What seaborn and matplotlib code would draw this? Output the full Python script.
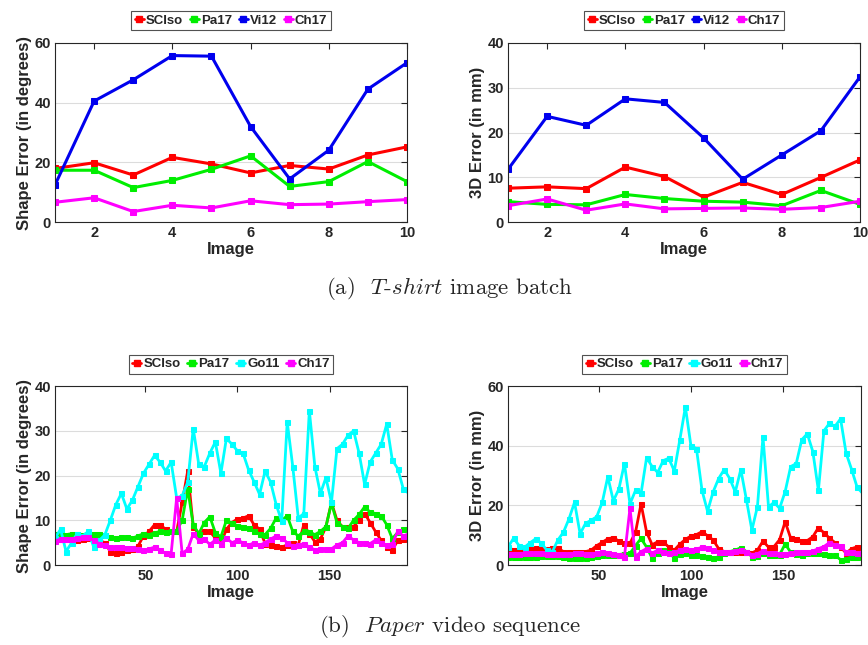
import numpy as np
import pandas as pd
import seaborn as sns
import matplotlib.pyplot as plt
from matplotlib.lines import Line2D

sns.set_theme(style='white')
plt.rcParams['font.family'] = ['Liberation Sans', 'DejaVu Sans']
plt.rcParams['mathtext.fontset'] = 'cm'

# ---------------- data ----------------
# (a) T-shirt image batch
images = np.arange(1, 11)
tshirt_shape_scisio = [18, 19.9, 15.8, 21.7, 19.5, 16.5, 19, 17.8, 22.5, 25.2]
tshirt_shape_pa17 = [17.4, 17.4, 11.6, 14, 17.7, 22.2, 12, 13.6, 20.3, 13.6]
tshirt_shape_vi12 = [12.5, 40.5, 47.6, 55.7, 55.5, 32, 14.5, 24.1, 44.5, 53.3]
tshirt_shape_ch17 = [6.7, 8.2, 3.6, 5.7, 4.8, 7.2, 5.9, 6.1, 6.9, 7.6]

tshirt_3d_scisio = [7.6, 7.9, 7.5, 12.3, 10.2, 5.6, 8.9, 6.2, 10, 13.9]
tshirt_3d_pa17 = [4.6, 4, 3.9, 6.2, 5.3, 4.7, 4.5, 3.7, 7.1, 4]
tshirt_3d_vi12 = [11.8, 23.6, 21.6, 27.5, 26.7, 18.8, 9.6, 15, 20.4, 32.4]
tshirt_3d_ch17 = [3.7, 5.2, 2.7, 4.1, 3, 3.1, 3.2, 2.9, 3.3, 4.7]

# (b) Paper video sequence (values read every 3rd frame)
frames = np.arange(1, 194, 3)
paper_shape_scisio = [5.5, 5.8, 5.8, 6, 5.7, 5.8, 6, 5.8, 5.5, 5,
                      3, 2.6, 3, 3.3, 3.5, 4.2, 6.5, 7.5, 9, 9,
                      8, 7.5, 7.5, 14, 21, 8.5, 7, 7.5, 7.5, 6,
                      4.8, 8, 9.5, 10.3, 10.5, 11, 9, 8, 4.8, 4.4,
                      4.2, 4, 4.5, 5, 4.5, 9, 7, 5.2, 5.8, 8.5,
                      14, 10, 8.5, 8.5, 8.6, 10, 11.5, 9.5, 7.4, 5.5,
                      4, 3.3, 5.5, 5.9, 5.9]
paper_shape_pa17 = [7, 7, 6.8, 7, 7, 6.8, 7, 7, 7, 6.6,
                    6.3, 6, 6.3, 6.3, 6, 6.5, 7, 6.8, 7.2, 7.5,
                    7.3, 7.5, 7.6, 10, 17, 9, 7, 9.5, 10.8, 7.2,
                    6.3, 10, 9.3, 8.8, 8.6, 8.2, 7.6, 7, 6.8, 8.2,
                    10.5, 10, 11, 7.5, 6.5, 7.5, 7.4, 6.8, 7.5, 8.6,
                    13.8, 9.5, 8.6, 8.2, 10, 11.3, 13, 11.8, 11.5, 11,
                    9, 5.9, 7.3, 8, 8.2]
paper_shape_go11 = [6, 8, 3, 5, 7, 6.5, 7.5, 4, 5.5, 6.7,
                    10, 13.5, 16, 12.5, 14.5, 17.5, 20.5, 22.5, 24.5, 23,
                    21, 23, 15, 15.5, 18.5, 30.5, 22.5, 22, 25, 27.5,
                    20.5, 28.3, 27, 25.5, 25, 21.3, 18.6, 15.8, 21, 18.5,
                    13.5, 9.8, 32, 22, 10.5, 11.5, 34.5, 22, 16, 19.5,
                    14, 26, 27, 29, 30, 25, 18, 23, 25, 27,
                    31.5, 23.5, 21.5, 17, 16]
paper_shape_ch17 = [5.4, 5.8, 5.8, 5.9, 6, 6.3, 6.2, 5.5, 4.8, 4.4,
                    4, 4, 4, 3.9, 3.8, 3.6, 3.3, 3.6, 4, 3.4,
                    2.6, 2.5, 15, 2.6, 3.5, 7, 5.5, 5.8, 4.6, 5.6,
                    4.8, 6, 5, 5.5, 5, 4.4, 5, 4.4, 5, 5.8,
                    6.5, 6, 5, 4.2, 4.4, 4.8, 4, 3.4, 3.5, 3.6,
                    3.6, 4.5, 5, 6.5, 5.6, 5, 5, 4.8, 5.6, 5,
                    4.4, 4.7, 7.5, 6.5, 7]

paper_3d_scisio = [5.5, 5.2, 5.2, 5.3, 5.3, 5.6, 5.3, 5.3, 5.8, 5.6,
                   4.5, 4.4, 4.4, 4.5, 4.5, 5, 6.5, 7.6, 8.8, 9.2,
                   8, 7.4, 7.3, 11, 20.5, 11, 6.8, 7.8, 7.8, 6,
                   5, 7, 8.6, 9.7, 10.2, 11.2, 9.8, 8.4, 5.5, 4.5,
                   4.5, 4.4, 4.5, 4.5, 4, 5, 8, 6, 6.2, 8.5,
                   14.5, 9, 8.8, 8, 8.2, 9.5, 12.5, 10.8, 9, 7.5,
                   6, 4, 5.5, 6.1, 6]
paper_3d_pa17 = [2.8, 2.6, 2.7, 2.8, 2.8, 2.7, 2.9, 3, 3, 2.9,
                 2.8, 2.5, 2.3, 2.2, 2.4, 2.8, 3, 3.2, 3.4, 3.3,
                 3.5, 3.8, 3.9, 6.5, 8.9, 6, 2.3, 4, 5, 4.5,
                 2.3, 3.8, 3.9, 3.5, 3.4, 3, 2.7, 2.2, 2.8, 3.9,
                 4.5, 5, 5.8, 4.5, 2.8, 2.9, 3.9, 3.5, 3.4, 3.5,
                 7, 4.3, 3.8, 3.5, 3.9, 4, 3.9, 3.6, 3.4, 3.2,
                 1.8, 2, 2.8, 2.8, 2.8]
paper_3d_go11 = [6, 9, 6.5, 6, 7.5, 8.8, 7.3, 5, 4.5, 8.4,
                 11, 15.5, 21, 10.5, 14, 15, 16.2, 21, 29.6, 21.5,
                 25.5, 34, 20.5, 25, 24, 36, 33, 31, 35, 35.8,
                 31.5, 42, 53, 40, 39, 25, 18, 24.5, 29, 32,
                 29, 24.5, 32, 22, 11.7, 19.6, 43, 19.5, 21, 19,
                 24.6, 33, 34, 42, 44, 38, 25, 45, 47.5, 46.5,
                 49, 37.5, 32, 26, 24]
paper_3d_ch17 = [3.6, 3.8, 3.7, 3.9, 4, 4, 4.1, 3.8, 3.6, 3.7,
                 3.8, 3.7, 3.9, 4, 3.8, 3.7, 4, 4.3, 4.1, 3.8,
                 3.5, 2.8, 19, 2.8, 4.5, 5.5, 4, 5, 4.5, 4,
                 4.3, 5, 5.4, 5, 5.3, 6, 5.6, 5, 4.5, 4.5,
                 4.4, 4.6, 5, 4.5, 3.5, 3.8, 4.8, 3.9, 3.9, 3.8,
                 3.8, 4, 4.4, 4.5, 4.4, 4.7, 5.5, 6.2, 7.5, 6.8,
                 6.5, 4.2, 4.5, 3.9, 4]

# colours per method
colors = {'SCIso': '#ff0000', 'Pa17': '#00ee00', 'Vi12': '#0000ee',
          'Go11': '#00ffff', 'Ch17': '#ff00ff'}
DARK = '#262626'


def draw_panel(ax, x, series, ylim, yticks, xlim, xticks, ylabel, ms, lw):
    df = pd.DataFrame({'Image': np.tile(x, len(series)),
                       'err': np.concatenate([series[k] for k in series]),
                       'method': np.repeat(list(series.keys()), len(x))})
    for name in series:
        sub = df[df['method'] == name]
        sns.lineplot(data=sub, x='Image', y='err', color=colors[name], marker='s',
                     markersize=ms, markeredgecolor=colors[name], linewidth=lw, ax=ax)
    ax.set_xlim(*xlim)
    ax.set_ylim(*ylim)
    ax.set_xticks(xticks)
    ax.set_yticks(yticks)
    ax.set_xlabel('Image', fontsize=12, fontweight='bold', color=DARK, labelpad=1)
    ax.set_ylabel(ylabel, fontsize=12, fontweight='bold', color=DARK, labelpad=2)
    ax.yaxis.grid(True, color='#dcdcdc', linewidth=0.8)
    ax.xaxis.grid(False)
    ax.set_axisbelow(True)
    ax.tick_params(direction='in', top=True, right=True, length=4, width=0.8,
                   labelsize=10.5, colors=DARK, pad=3)
    for lab in ax.get_xticklabels() + ax.get_yticklabels():
        lab.set_fontweight('bold')
    for sp in ax.spines.values():
        sp.set_color(DARK)
        sp.set_linewidth(0.8)
    handles = [Line2D([0], [0], color=colors[k], marker='s', markersize=4, linewidth=2)
               for k in series]
    leg = ax.legend(handles, list(series.keys()), loc='lower center',
                    bbox_to_anchor=(0.5, 1.07), ncol=len(series), frameon=True,
                    fancybox=False, edgecolor=DARK, handlelength=0.7,
                    handletextpad=0.15, columnspacing=0.5, borderpad=0.25,
                    borderaxespad=0, prop={'size': 9.5, 'weight': 'bold'})
    leg.get_frame().set_linewidth(0.8)


fig = plt.figure(figsize=(8.68, 6.45), dpi=100)
ax1 = fig.add_axes([0.0634, 0.6553, 0.4055, 0.2785])
ax2 = fig.add_axes([0.5853, 0.6553, 0.4055, 0.2785])
ax3 = fig.add_axes([0.0634, 0.124, 0.4055, 0.2775])
ax4 = fig.add_axes([0.5853, 0.124, 0.4065, 0.2775])

draw_panel(ax1, images, {'SCIso': tshirt_shape_scisio, 'Pa17': tshirt_shape_pa17,
                         'Vi12': tshirt_shape_vi12, 'Ch17': tshirt_shape_ch17},
           (0, 60), [0, 20, 40, 60], (1, 10), [2, 4, 6, 8, 10],
           'Shape Error (in degrees)', 5, 2.2)
draw_panel(ax2, images, {'SCIso': tshirt_3d_scisio, 'Pa17': tshirt_3d_pa17,
                         'Vi12': tshirt_3d_vi12, 'Ch17': tshirt_3d_ch17},
           (0, 40), [0, 10, 20, 30, 40], (1, 10), [2, 4, 6, 8, 10],
           '3D Error (in mm)', 5, 2.2)
draw_panel(ax3, frames, {'SCIso': paper_shape_scisio, 'Pa17': paper_shape_pa17,
                         'Go11': paper_shape_go11, 'Ch17': paper_shape_ch17},
           (0, 40), [0, 10, 20, 30, 40], (1, 192), [50, 100, 150],
           'Shape Error (in degrees)', 3.6, 2)
draw_panel(ax4, frames, {'SCIso': paper_3d_scisio, 'Pa17': paper_3d_pa17,
                         'Go11': paper_3d_go11, 'Ch17': paper_3d_ch17},
           (0, 60), [0, 20, 40, 60], (1, 192), [50, 100, 150],
           '3D Error (in mm)', 3.6, 2)

fig.text(0.518, 0.553, r'(a)  $\mathit{T}$-$\mathit{shirt}$ image batch',
         ha='center', va='center', fontsize=16.5, family='cmr10')
fig.text(0.518, 0.029, r'(b)  $\mathit{Paper}$ video sequence',
         ha='center', va='center', fontsize=16.5, family='cmr10')

fig.savefig('out.png', dpi=100)
